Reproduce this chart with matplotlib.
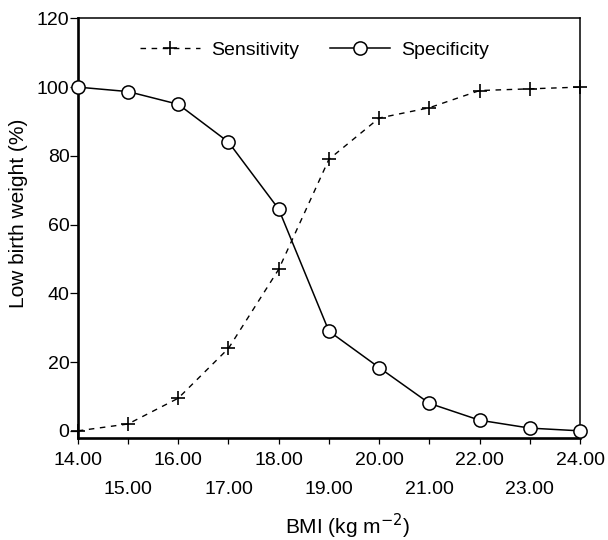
import matplotlib
matplotlib.use("Agg")
import matplotlib.pyplot as plt

plt.rcParams['font.family'] = ['Liberation Sans', 'DejaVu Sans']

bmi = [14, 15, 16, 17, 18, 19, 20, 21, 22, 23, 24]
sensitivity = [0, 2, 9.5, 24, 47, 79, 91, 94, 99, 99.5, 100]
specificity = [100, 98.7, 95, 84, 64.5, 29, 18.4, 8, 3.1, 0.8, 0]
tick_labels = ['14.00', '\n15.00', '16.00', '\n17.00', '18.00', '\n19.00',
               '20.00', '\n21.00', '22.00', '\n23.00', '24.00']

fig = plt.figure(figsize=(6.08, 5.4), dpi=100)
ax = fig.add_axes([0.128, 0.1894, 0.826, 0.7766])

ax.plot(bmi, sensitivity, color='k', ls=(0, (4, 4)), lw=1.0, marker='+',
        ms=10, mew=1.2, label='Sensitivity', clip_on=False)
ax.plot(bmi, specificity, color='k', ls='-', lw=1.1, marker='o', ms=9.5,
        mfc='white', mec='k', mew=1.1, label='Specificity', clip_on=False, zorder=3)

ax.set_xlim(14, 24)
ax.set_ylim(-2, 120)
ax.set_yticks([0, 20, 40, 60, 80, 100, 120])
ax.set_xticks(bmi)
ax.set_xticklabels(tick_labels, linespacing=1.95)

ax.tick_params(labelsize=14, direction='out', width=0.9, color='k')
ax.tick_params(axis='y', length=5.5, pad=0.5)
ax.tick_params(axis='x', length=4, pad=6)
for s in ['left', 'bottom']:
    ax.spines[s].set_linewidth(1.9)
for s in ['top', 'right']:
    ax.spines[s].set_linewidth(1.1)

ax.set_xlabel('BMI (kg m$^{-2}$)', fontsize=15)
ax.xaxis.set_label_coords(0.537, -0.177)
ax.set_ylabel('Low birth weight (%)', fontsize=15)
ax.yaxis.set_label_coords(-0.10, 0.536)

ax.legend(loc='center', bbox_to_anchor=(0.471, 0.924), ncol=2,
          frameon=False, fontsize=14, handlelength=3.1, columnspacing=1.6,
          handletextpad=0.55)

fig.savefig('out.png', dpi=100)
